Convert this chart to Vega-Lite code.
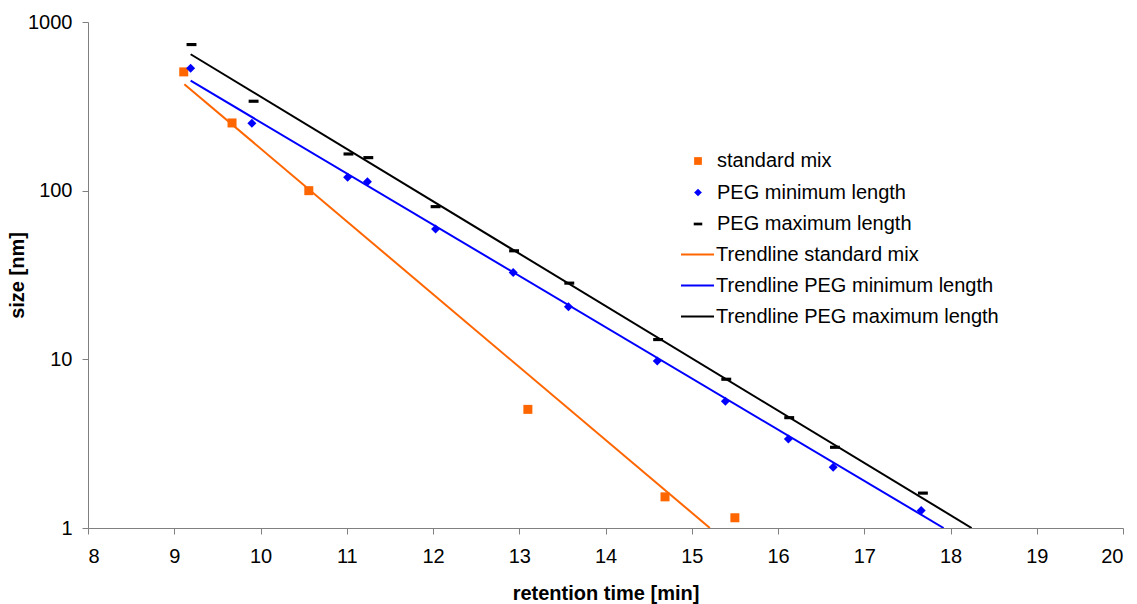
{
  "$schema": "https://vega.github.io/schema/vega-lite/v6.json",
  "width": 1035,
  "height": 506,
  "autosize": {"type": "none"},
  "padding": {"left": 88, "top": 22, "right": 14, "bottom": 76},
  "background": "white",
  "config": {
    "view": {"stroke": null},
    "font": "Liberation Sans",
    "axis": {
      "domainColor": "#808080",
      "tickColor": "#808080",
      "tickSize": 6,
      "grid": false,
      "labelFont": "Liberation Sans",
      "labelFontSize": 20,
      "labelColor": "black",
      "titleFont": "Liberation Sans",
      "titleFontSize": 20,
      "titleFontWeight": "bold",
      "titleColor": "black"
    },
    "legend": {
      "labelFont": "Liberation Sans",
      "labelFontSize": 20,
      "labelColor": "black",
      "labelLimit": 400
    }
  },
  "datasets": {
    "points": [
      {"series": "standard mix", "t": 9.11, "size": 506},
      {"series": "standard mix", "t": 9.67, "size": 252},
      {"series": "standard mix", "t": 10.56, "size": 100},
      {"series": "standard mix", "t": 13.10, "size": 5.05},
      {"series": "standard mix", "t": 14.69, "size": 1.53},
      {"series": "standard mix", "t": 15.50, "size": 1.15},
      {"series": "PEG minimum length", "t": 9.19, "size": 532},
      {"series": "PEG minimum length", "t": 9.90, "size": 251},
      {"series": "PEG minimum length", "t": 11.01, "size": 120},
      {"series": "PEG minimum length", "t": 11.24, "size": 113},
      {"series": "PEG minimum length", "t": 12.03, "size": 59.3},
      {"series": "PEG minimum length", "t": 12.93, "size": 32.7},
      {"series": "PEG minimum length", "t": 13.57, "size": 20.5},
      {"series": "PEG minimum length", "t": 14.60, "size": 9.77},
      {"series": "PEG minimum length", "t": 15.39, "size": 5.65},
      {"series": "PEG minimum length", "t": 16.12, "size": 3.37},
      {"series": "PEG minimum length", "t": 16.64, "size": 2.29},
      {"series": "PEG minimum length", "t": 17.66, "size": 1.27},
      {"series": "PEG maximum length", "t": 9.20, "size": 735},
      {"series": "PEG maximum length", "t": 9.92, "size": 339},
      {"series": "PEG maximum length", "t": 11.02, "size": 165},
      {"series": "PEG maximum length", "t": 11.25, "size": 157},
      {"series": "PEG maximum length", "t": 12.03, "size": 80.4},
      {"series": "PEG maximum length", "t": 12.94, "size": 44},
      {"series": "PEG maximum length", "t": 13.58, "size": 28.3},
      {"series": "PEG maximum length", "t": 14.61, "size": 13.1},
      {"series": "PEG maximum length", "t": 15.40, "size": 7.62},
      {"series": "PEG maximum length", "t": 16.13, "size": 4.51},
      {"series": "PEG maximum length", "t": 16.66, "size": 3.01},
      {"series": "PEG maximum length", "t": 17.68, "size": 1.61}
    ],
    "trends": [
      {"trend": "Trendline standard mix", "t": 9.117, "size": 428},
      {"trend": "Trendline standard mix", "t": 15.21, "size": 1.0},
      {"trend": "Trendline PEG minimum length", "t": 9.19, "size": 449},
      {"trend": "Trendline PEG minimum length", "t": 17.92, "size": 1.0},
      {"trend": "Trendline PEG maximum length", "t": 9.19, "size": 644},
      {"trend": "Trendline PEG maximum length", "t": 18.245, "size": 1.0}
    ]
  },
  "encoding": {
    "x": {
      "field": "t",
      "type": "quantitative",
      "scale": {"domain": [8, 20], "nice": false, "zero": false},
      "axis": {
        "title": "retention time [min]",
        "values": [8, 9, 10, 11, 12, 13, 14, 15, 16, 17, 18, 19, 20],
        "format": "d",
        "labelPadding": 12,
        "titlePadding": 17
      }
    },
    "y": {
      "field": "size",
      "type": "quantitative",
      "scale": {"type": "log", "domain": [1, 1000], "nice": false},
      "axis": {
        "title": "size [nm]",
        "values": [1, 10, 100, 1000],
        "format": "d",
        "labelPadding": 10,
        "titlePadding": 0
      }
    }
  },
  "layer": [
    {
      "data": {"name": "trends"},
      "mark": {"type": "line", "strokeWidth": 2, "clip": true},
      "encoding": {
        "color": {
          "field": "trend",
          "type": "nominal",
          "scale": {
            "domain": ["Trendline standard mix", "Trendline PEG minimum length", "Trendline PEG maximum length"],
            "range": ["#FF6600", "#0000FF", "#000000"]
          },
          "legend": {
            "title": null,
            "orient": "none",
            "legendX": 592,
            "legendY": 215,
            "symbolType": "stroke",
            "symbolSize": 1089,
            "symbolStrokeWidth": 2,
            "labelOffset": 1,
            "rowPadding": 3
          }
        }
      }
    },
    {
      "data": {"name": "points"},
      "mark": {"type": "point", "filled": true, "opacity": 1, "size": 81},
      "encoding": {
        "fill": {
          "field": "series",
          "type": "nominal",
          "scale": {
            "domain": ["standard mix", "PEG minimum length", "PEG maximum length"],
            "range": ["#FF6600", "#0000FF", "#000000"]
          },
          "legend": {
            "title": null,
            "orient": "none",
            "legendX": 600,
            "legendY": 129,
            "symbolSize": 60,
            "symbolOpacity": 1,
            "symbolStrokeWidth": 0,
            "labelOffset": 9,
            "rowPadding": 11.5
          }
        },
        "shape": {
          "field": "series",
          "type": "nominal",
          "scale": {
            "domain": ["standard mix", "PEG minimum length", "PEG maximum length"],
            "range": ["square", "diamond", "M-1.1,-0.35H1.1V0.35H-1.1Z"]
          },
          "legend": {
            "title": null,
            "orient": "none",
            "legendX": 600,
            "legendY": 129,
            "symbolSize": 60,
            "symbolOpacity": 1,
            "symbolStrokeWidth": 0,
            "labelOffset": 9,
            "rowPadding": 11.5
          }
        }
      }
    }
  ]
}
